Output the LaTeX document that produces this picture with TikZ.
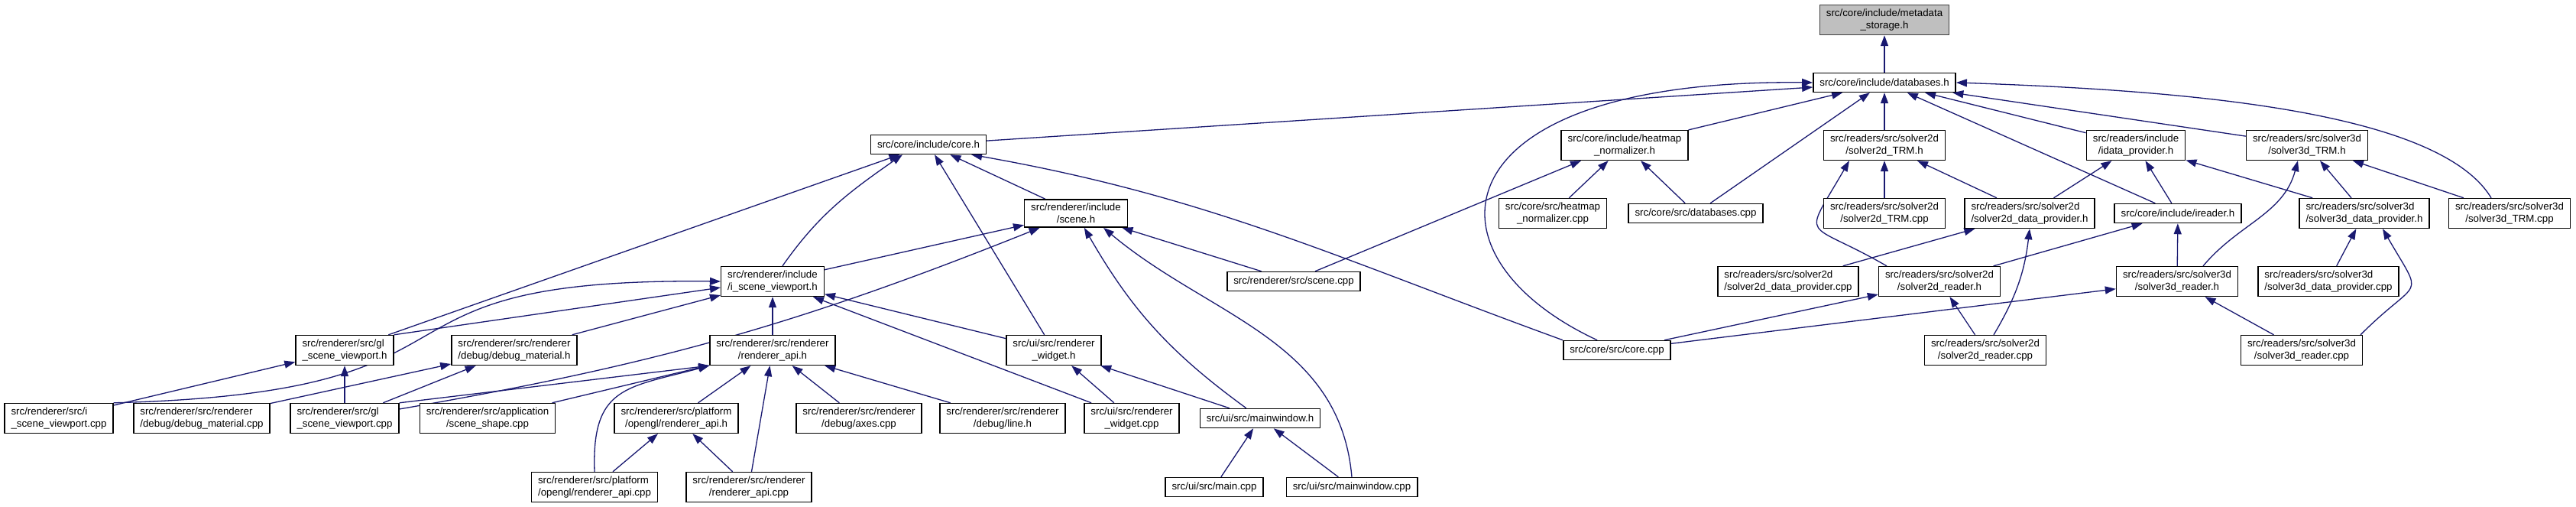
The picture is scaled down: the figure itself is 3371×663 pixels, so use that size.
\documentclass[tikz,border=0pt]{standalone}
\usepackage{fontspec}
\setmainfont{Liberation Sans}
\usepackage{xcolor}
\usepackage{tikz}
\usetikzlibrary{arrows.meta, backgrounds}
\definecolor{incblue}{RGB}{25,25,112}
\definecolor{rootgray}{RGB}{191,191,191}
\definecolor{rootedge}{RGB}{64,64,64}
\tikzset{
    incbox/.style={rectangle, draw=black, fill=white, line width=1.5pt, minimum height=25pt, inner xsep=8.5pt, inner ysep=5.5pt, align=center, font=\fontsize{13.3}{15.5}\selectfont},
    incleft/.style={incbox, align=left},
    incroot/.style={incbox, draw=rootedge, fill=rootgray},
    incarrow/.style={-{Triangle[length=14pt,width=10pt]}, draw=incblue, line width=1.3pt}
}

\begin{document}
\begin{tikzpicture}[x=1pt, y=1pt]

\useasboundingbox (0,0) rectangle (3371,663);

\node[incroot] (meta) at (2466,637) {src/core/include/metadata\\\_storage.h};
\node[incbox] (dbh) at (2466,555) {src/core/include/databases.h};

\node[incbox] (coreh) at (1215,474) {src/core/include/core.h};
\node[incbox] (heath) at (2126,473) {src/core/include/heatmap\\\_normalizer.h};
\node[incbox] (s2trmh) at (2466,473) {src/readers/src/solver2d\\/solver2d\_TRM.h};
\node[incbox] (idatah) at (2795,473) {src/readers/include\\/idata\_provider.h};
\node[incbox] (s3trmh) at (3019,473) {src/readers/src/solver3d\\/solver3d\_TRM.h};

\node[incbox] (sceneh) at (1408,384) {src/renderer/include\\/scene.h};
\node[incbox] (heatcpp) at (2032,384) {src/core/src/heatmap\\\_normalizer.cpp};
\node[incbox] (dbcpp) at (2219,384) {src/core/src/databases.cpp};
\node[incbox] (s2trmcpp) at (2466,384) {src/readers/src/solver2d\\/solver2d\_TRM.cpp};
\node[incleft] (s2dph) at (2656,384) {src/readers/src/solver2d\\/solver2d\_data\_provider.h};
\node[incbox] (ireader) at (2850,384) {src/core/include/ireader.h};
\node[incleft] (s3dph) at (3094,384) {src/readers/src/solver3d\\/solver3d\_data\_provider.h};
\node[incbox] (s3trmcpp) at (3284,384) {src/readers/src/solver3d\\/solver3d\_TRM.cpp};

\node[incleft] (iscvph) at (1011,295) {src/renderer/include\\/i\_scene\_viewport.h};
\node[incbox] (scenecpp) at (1693,295) {src/renderer/src/scene.cpp};
\node[incleft] (s2dpcpp) at (2340,295) {src/readers/src/solver2d\\/solver2d\_data\_provider.cpp};
\node[incbox] (s2readh) at (2538,295) {src/readers/src/solver2d\\/solver2d\_reader.h};
\node[incbox] (s3readh) at (2849,295) {src/readers/src/solver3d\\/solver3d\_reader.h};
\node[incleft] (s3dpcpp) at (3047,295) {src/readers/src/solver3d\\/solver3d\_data\_provider.cpp};

\node[incleft] (glscvph) at (451,205) {src/renderer/src/gl\\\_scene\_viewport.h};
\node[incleft] (dbgmath) at (673,205) {src/renderer/src/renderer\\/debug/debug\_material.h};
\node[incbox] (rapih) at (1011,205) {src/renderer/src/renderer\\/renderer\_api.h};
\node[incbox] (rwidgeth) at (1379,205) {src/ui/src/renderer\\\_widget.h};
\node[incbox] (corecpp) at (2116,205) {src/core/src/core.cpp};
\node[incbox] (s2readcpp) at (2598,205) {src/readers/src/solver2d\\/solver2d\_reader.cpp};
\node[incbox] (s3readcpp) at (3012,205) {src/readers/src/solver3d\\/solver3d\_reader.cpp};

\node[incleft] (iscvpcpp) at (77,116) {src/renderer/src/i\\\_scene\_viewport.cpp};
\node[incleft] (dbgmatcpp) at (264,116) {src/renderer/src/renderer\\/debug/debug\_material.cpp};
\node[incleft] (glscvpcpp) at (451,116) {src/renderer/src/gl\\\_scene\_viewport.cpp};
\node[incbox] (shapecpp) at (638,116) {src/renderer/src/application\\/scene\_shape.cpp};
\node[incbox] (glapih) at (885,116) {src/renderer/src/platform\\/opengl/renderer\_api.h};
\node[incbox] (axescpp) at (1124,116) {src/renderer/src/renderer\\/debug/axes.cpp};
\node[incbox] (lineh) at (1312,116) {src/renderer/src/renderer\\/debug/line.h};
\node[incbox] (rwidgetcpp) at (1481,116) {src/ui/src/renderer\\\_widget.cpp};
\node[incbox] (mainwinh) at (1649,116) {src/ui/src/mainwindow.h};

\node[incleft] (glapicpp) at (778,26) {src/renderer/src/platform\\/opengl/renderer\_api.cpp};
\node[incbox] (rapicpp) at (980,26) {src/renderer/src/renderer\\/renderer\_api.cpp};
\node[incbox] (maincpp) at (1589,26) {src/ui/src/main.cpp};
\node[incbox] (mainwincpp) at (1769,26) {src/ui/src/mainwindow.cpp};

\begin{scope}[on background layer]
    \draw[incarrow] (dbh) -- (meta);
    \draw[incarrow] (coreh) -- (dbh);
    \draw[incarrow] ([xshift=45pt]corecpp.north west) .. controls (1850,330) and (1880,560) .. (dbh.west);
    \draw[incarrow] (heath) -- (dbh);
    \draw[incarrow] (dbcpp) -- (dbh);
    \draw[incarrow] (s2trmh) -- (dbh);
    \draw[incarrow] (ireader) -- (dbh);
    \draw[incarrow] (idatah) -- (dbh);
    \draw[incarrow] (s3trmh) -- (dbh);
    \draw[incarrow] ([xshift=-24pt]s3trmcpp.north) .. controls (3190,520) and (2850,545) .. (dbh.east);

    \draw[incarrow] ([xshift=28pt]scenecpp.north) -- ([xshift=-57pt]heath.south);
    \draw[incarrow] (heatcpp) -- (heath);
    \draw[incarrow] (dbcpp) -- (heath);

    \draw[incarrow] (s2trmcpp) -- (s2trmh);
    \draw[incarrow] (s2dph) -- (s2trmh);
    \draw[incarrow] ([xshift=-69pt]s2readh.north) to[out=150, in=-120, looseness=2.2] ([xshift=-46pt]s2trmh.south);
    \draw[incarrow] (s2dpcpp) -- (s2dph);
    \draw[incarrow] ([xshift=11pt]s2readcpp.north) to[bend right=12] (s2dph.south);
    \draw[incarrow] (s2dph) -- (idatah);
    \draw[incarrow] (ireader) -- (idatah);
    \draw[incarrow] (s3dph) -- (idatah);
    \draw[incarrow] (s2readh) -- (ireader);
    \draw[incarrow] (s3readh) -- (ireader);
    \draw[incarrow] ([xshift=34pt]s3readh.north) to[out=50, in=-105] ([xshift=-12pt]s3trmh.south);
    \draw[incarrow] (s3dph) -- (s3trmh);
    \draw[incarrow] (s3trmcpp) -- (s3trmh);
    \draw[incarrow] (s3dpcpp) -- (s3dph);
    \draw[incarrow] ([xshift=77pt]s3readcpp.north) to[out=45, in=-60, looseness=2] ([xshift=24pt]s3dph.south);
    \draw[incarrow] (s2readcpp) -- (s2readh);
    \draw[incarrow] (s3readcpp) -- (s3readh);
    \draw[incarrow] (corecpp) -- (s2readh);
    \draw[incarrow] (corecpp) -- (s3readh);

    \draw[incarrow] (glscvph) -- (coreh);
    \draw[incarrow] ([xshift=13pt]iscvph.north) to[out=55, in=-145] ([xshift=-34pt]coreh.south);
    \draw[incarrow] (sceneh) -- (coreh);
    \draw[incarrow] (rwidgeth) -- (coreh);
    \draw[incarrow] (corecpp.north west) to[out=160, in=-10] ([xshift=-20pt]coreh.south east);

    \draw[incarrow] (iscvph) -- (sceneh);
    \draw[incarrow] (glscvpcpp) to[bend right=6] (sceneh);
    \draw[incarrow] (mainwinh) to[bend left=12] (sceneh);
    \draw[incarrow] (mainwincpp.north) to[out=95, in=-40] ([xshift=36pt]sceneh.south);
    \draw[incarrow] (scenecpp) -- (sceneh);

    \draw[incarrow] (iscvpcpp.north east) .. controls (680,150) and (440,300) .. (iscvph.west);
    \draw[incarrow] (glscvph.north east) -- ([yshift=-8pt]iscvph.west);
    \draw[incarrow] (dbgmath) -- (iscvph);
    \draw[incarrow] (rapih) -- (iscvph);
    \draw[incarrow] (rwidgeth) -- (iscvph);
    \draw[incarrow] (rwidgetcpp) -- (iscvph);

    \draw[incarrow] (glscvpcpp.north east) -- (rapih.south west);
    \draw[incarrow] (shapecpp) -- (rapih);
    \draw[incarrow] (glapicpp.north) to[out=92, in=195, looseness=1.4] (rapih.south west);
    \draw[incarrow] (glapih) -- (rapih);
    \draw[incarrow] (rapicpp) -- (rapih);
    \draw[incarrow] (axescpp) -- (rapih);
    \draw[incarrow] (lineh) -- (rapih);

    \draw[incarrow] (iscvpcpp) -- (glscvph);
    \draw[incarrow] (glscvpcpp) -- (glscvph);
    \draw[incarrow] (dbgmatcpp) -- (dbgmath);
    \draw[incarrow] (glscvpcpp) -- (dbgmath);
    \draw[incarrow] (glapicpp) -- (glapih);
    \draw[incarrow] (rapicpp) -- (glapih);
    \draw[incarrow] (rwidgetcpp) -- (rwidgeth);
    \draw[incarrow] (mainwinh) -- (rwidgeth);
    \draw[incarrow] (maincpp) -- (mainwinh);
    \draw[incarrow] (mainwincpp) -- (mainwinh);
\end{scope}

\end{tikzpicture}
\end{document}
